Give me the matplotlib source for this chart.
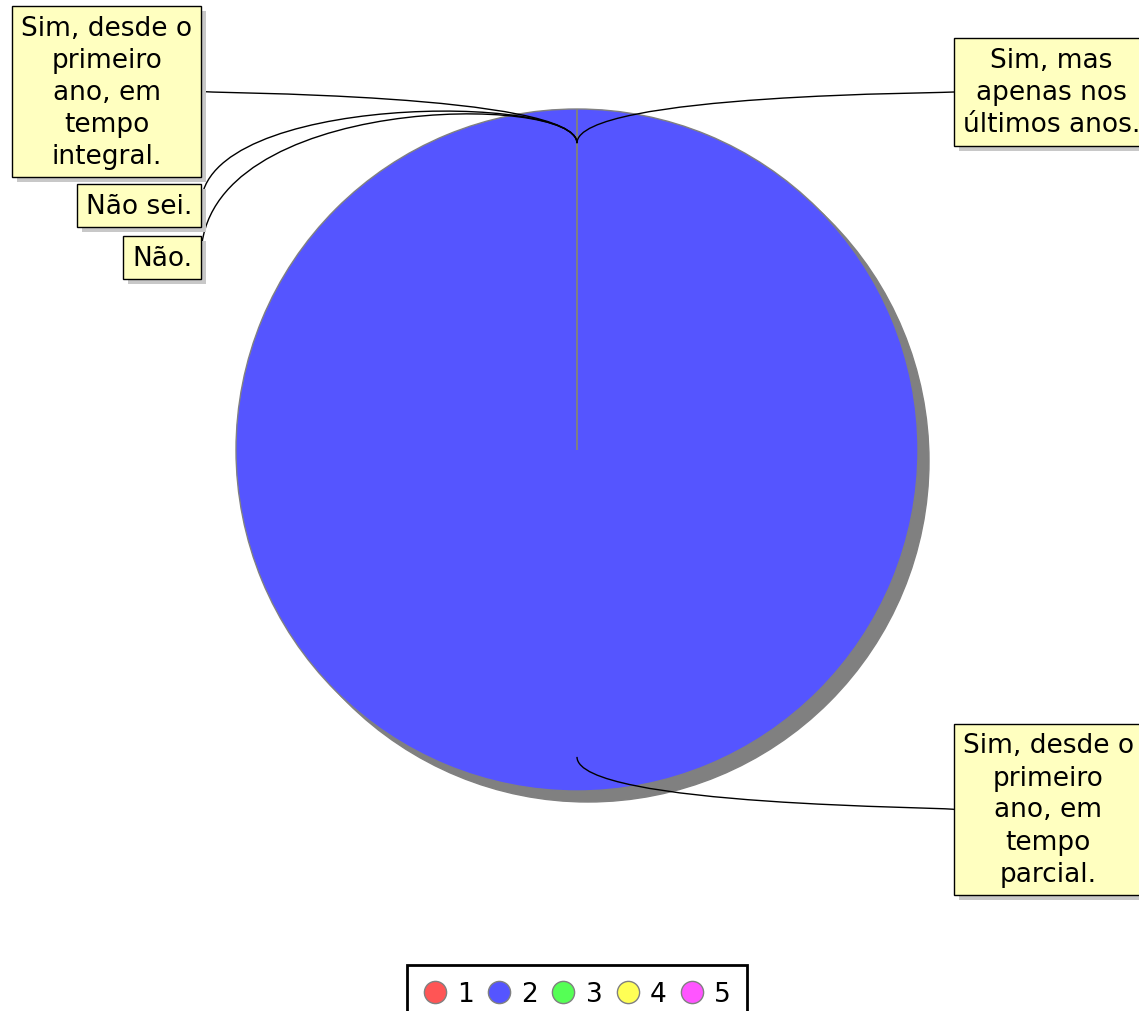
import numpy as np
import matplotlib.pyplot as plt
from matplotlib.path import Path
from matplotlib.patches import Circle, PathPatch
from matplotlib.lines import Line2D
import matplotlib.patheffects as pe

### data
categories = ["Sim, desde o\nprimeiro\nano, em\ntempo\nintegral.",
              "Sim, desde o\nprimeiro\nano, em\ntempo\nparcial.",
              "Sim, mas\napenas nos\núltimos anos.",
              "Não sei.",
              "Não."]
legend_labels = ["1", "2", "3", "4", "5"]
values = [0, 1, 0, 0, 0]
colors = ["#ff5555", "#5555ff", "#55ff55", "#ffff55", "#ff55ff"]

### layout (pixels, y down) : side of box, box edge x, box centre y
box_side = ["left", "right", "right", "left", "left"]
box_edge_x = [201, 954, 954, 201, 201]
box_y = [92.5, 810.5, 93, 206.5, 258.5]

W, H = 1139, 1012
cx, cy, R = 577, H - 451, 341
shadow_off = 11
fs = 19
box_pad = 0.33

fig = plt.figure(figsize=(W / 100, H / 100), dpi=100)
ax = fig.add_axes([0, 0, 1, 1])

# shadow of the pie
ax.add_patch(Circle((cx + shadow_off, cy - shadow_off), R, color='#808080', zorder=1))

wedges, _ = ax.pie(values, colors=colors, startangle=90, counterclock=False,
                   center=(cx, cy), radius=R, frame=True,
                   wedgeprops=dict(edgecolor='#808080', linewidth=1.0))
for w in wedges:
    w.set_zorder(2)
ax.set_xlim(0, W)
ax.set_ylim(0, H)
ax.set_aspect('equal')
ax.axis('off')

pad_px = box_pad * fs * 100 / 72
for w, lab, side, ex, by in zip(wedges, categories, box_side, box_edge_x, box_y):
    mid = np.deg2rad((w.theta1 + w.theta2) / 2)
    axp = cx + 0.9 * R * np.cos(mid)
    ayp = cy + 0.9 * R * np.sin(mid)
    y = H - by
    if side == "left":
        tx, ha = ex - pad_px, 'right'
    else:
        tx, ha = ex + pad_px, 'left'
    t = ax.text(tx, y, lab, ha=ha, va='center', multialignment='center',
                fontsize=fs, linespacing=1.3, zorder=5,
                bbox=dict(boxstyle=f'square,pad={box_pad}', facecolor='#ffffc0',
                          edgecolor='black', linewidth=1.0))
    t.get_bbox_patch().set_path_effects([
        pe.SimplePatchShadow(offset=(3.6, -3.6), shadow_rgbFace='#c8c8c8', alpha=1),
        pe.Normal()])
    sgn = 1 if np.sin(mid) >= 0 else -1
    ctrl_y = ayp + sgn * 50
    verts = [(ex, y), (ex, ctrl_y), (axp, ctrl_y), (axp, ayp)]
    path = Path(verts, [Path.MOVETO, Path.CURVE4, Path.CURVE4, Path.CURVE4])
    ax.add_patch(PathPatch(path, facecolor='none', edgecolor='black', lw=1.0, zorder=4))

handles = [Line2D([], [], marker='o', ls='', markerfacecolor=c, markeredgecolor='#808080',
                  markersize=16) for c in colors]
leg = fig.legend(handles, legend_labels, loc='upper center', ncol=5,
                 bbox_to_anchor=(577 / W, 1 - 966 / H), fontsize=fs,
                 frameon=True, fancybox=False, framealpha=1, edgecolor='black',
                 handlelength=0.9, handletextpad=0.4, columnspacing=0.5,
                 borderpad=0.6, borderaxespad=0)
leg.get_frame().set_linewidth(2)

fig.savefig('out.png', dpi=100)
